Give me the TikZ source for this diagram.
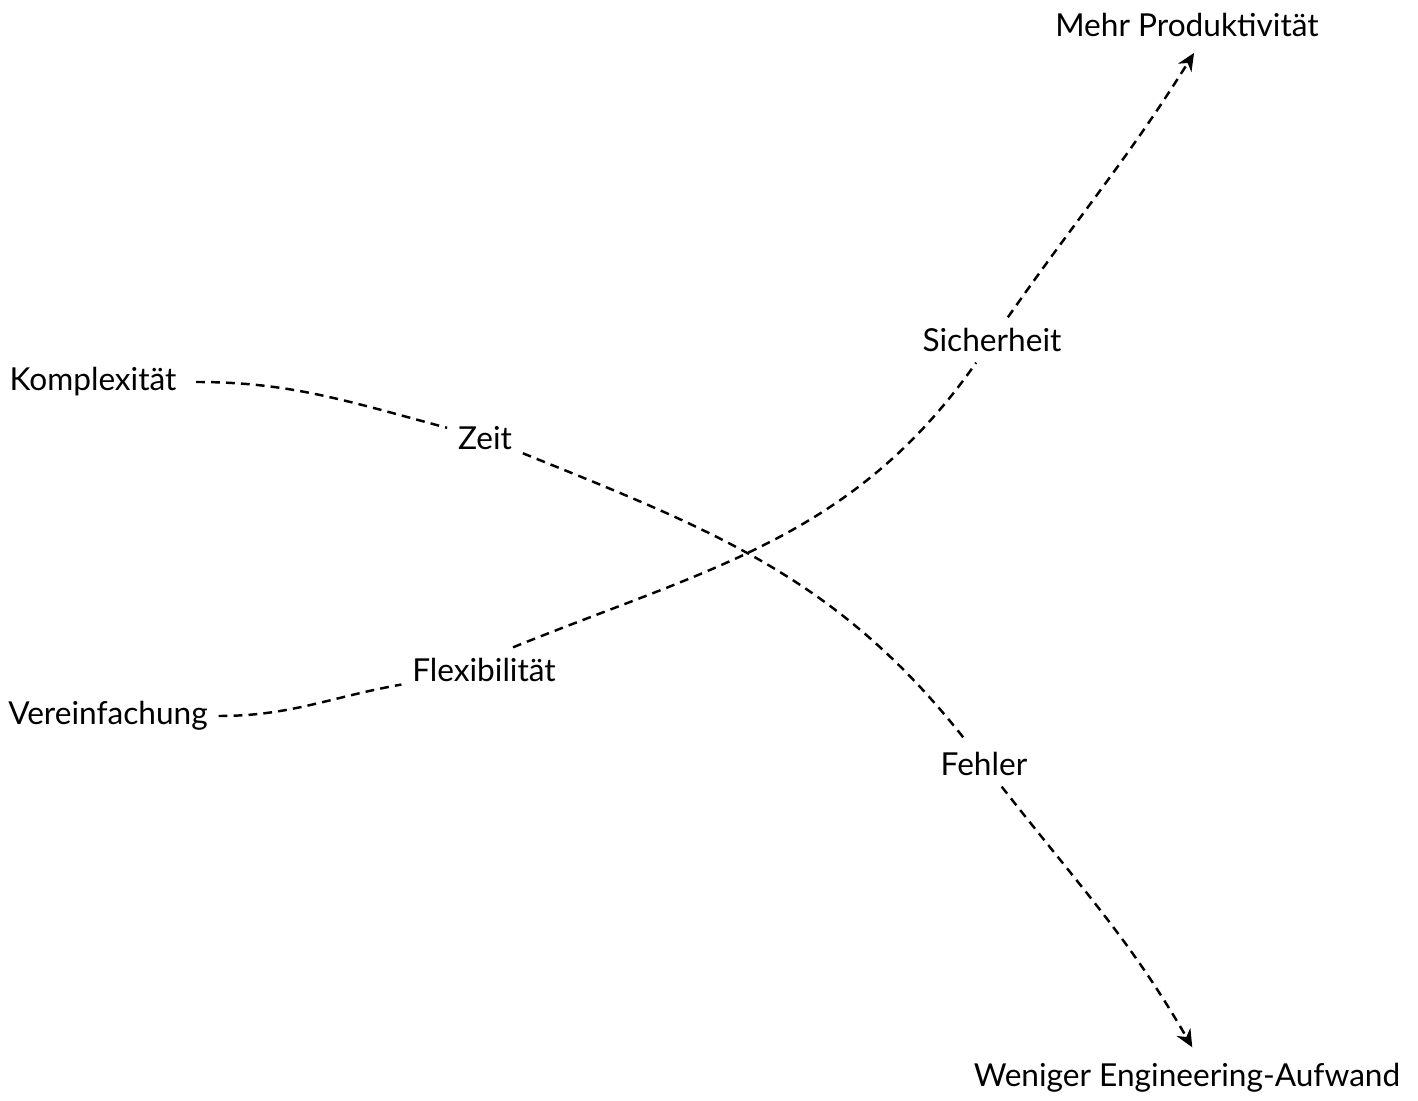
\documentclass[tikz,border=0pt]{standalone}
\usepackage{fontspec}
\setmainfont{Lato}
\usepackage{tikz}
\usetikzlibrary{arrows.meta, positioning}
\tikzstyle{word} = [inner sep=6pt, font=\fontsize{18}{21}\selectfont]
\tikzstyle{link} = [line width=1.4pt, dash pattern=on 5pt off 3.5pt]
\tikzstyle{arrow} = [link, -{Stealth[length=10pt, width=9pt]}]

\begin{document}
\begin{tikzpicture}
  \useasboundingbox (0,0) rectangle (28.36,22.02);
  \node (mehr)  [word] at (23.74,21.52) {Mehr Produktivität};
  \node (wenig) [word] at (23.74,0.46)  {Weniger Engineering-Aufwand};
  \node (komp)  [word] at (1.86,14.38)  {Komplexität};
  \node (verein)[word] at (2.16,7.70)   {Vereinfachung};
  \node (zeit)  [word] at (9.70,13.26)  {Zeit};
  \node (sicher)[word] at (19.84,15.22) {Sicherheit};
  \node (flex)  [word] at (9.68,8.62)   {Flexibilität};
  \node (fehler)[word] at (19.68,6.74)  {Fehler};

  \draw[link]  (verein) to[out=0, in=190] (flex);
  \draw[link]  (flex.38) to[out=22, in=235] (sicher);
  \draw[arrow] (sicher) to[out=55, in=238] ([xshift=4pt,yshift=-3pt]mehr.south);

  \draw[link, shorten <=5pt] (komp) to[out=0, in=165] (zeit);
  \draw[link]  (zeit)   to[out=-22, in=128] (fehler);
  \draw[arrow] (fehler) to[out=-52, in=120] ([xshift=3pt,yshift=3pt]wenig.north);
\end{tikzpicture}
\end{document}
